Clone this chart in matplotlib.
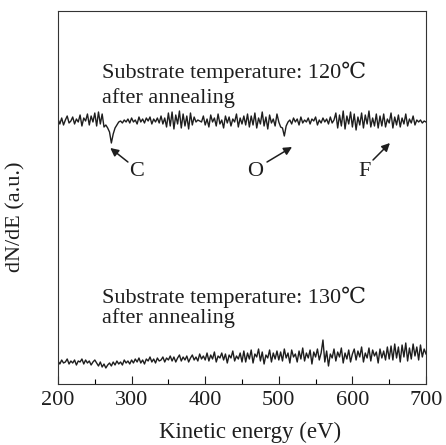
import numpy as np
import matplotlib
matplotlib.use("Agg")
import matplotlib.pyplot as plt

# ---- data (y in arbitrary units) ----
upper_120C = [
    265, 260, 266, 259, 264, 268, 261, 263, 267, 260, 265, 262, 269, 258, 266, 263, 270, 259, 268, 262, 271,
    258, 272, 260, 270, 257,
    259, 256, 252, 241, 250, 256, 259,
    262, 263, 261, 264, 262,
    265, 261, 266, 262, 264, 260, 267, 262, 265, 261, 266, 263, 267, 260, 265, 262, 266, 261, 268, 260, 266,
    257, 271, 258, 272, 255, 269, 260, 273, 256, 270, 258, 268, 255, 271, 259, 267,
    262, 264, 263, 262,
    268, 259, 265, 257, 269, 262, 266, 258, 270, 260, 264, 256, 268, 261, 267, 258, 265, 262, 270, 257, 266, 260, 268, 259,
    270, 257, 268, 259, 271, 256, 266, 260, 272, 258, 267, 255, 269, 261, 265, 258, 270, 262, 257,
    256, 248, 258, 262,
    264, 260, 266, 262, 265, 259, 267, 261, 264, 262, 266, 260, 265, 263, 267, 259, 264, 261, 266, 262, 265, 260, 267, 261, 264,
    271, 256, 269, 258, 273, 255, 268, 260, 272, 257, 270, 254, 267, 259, 271, 256, 269, 260, 273, 257, 266, 258, 270, 256,
    268, 258, 270, 257, 265, 261, 271, 256, 267, 259, 269, 257, 266, 260, 270, 258, 265, 261, 268, 259, 264, 262,
    264, 261, 263, 262,
]

lower_130C = [
    23, 20, 24, 21, 22, 25, 20, 23, 21, 24, 19, 23, 22, 25, 20, 24, 21, 23, 19, 22, 24,
    21, 18, 22, 17, 20, 16, 19, 21, 18, 22, 19, 23, 20, 22, 19, 24, 21, 23, 20, 24,
    21, 25, 22, 26, 21, 24, 20, 25, 23, 27, 22, 25, 21, 26, 23, 24, 27, 22, 26, 24,
    28, 23, 27, 22, 26, 29, 23, 27, 24, 28, 22, 26, 29, 24, 27, 23, 30, 25, 28, 24,
    31, 23, 29, 25, 32, 22, 28, 26, 31, 24, 30, 21, 29, 26, 33, 23, 28, 25, 31, 22,
    33, 22, 31, 25, 34, 21, 30, 27, 35, 23, 32, 20, 29, 26, 34, 22, 31, 25, 33, 24,
    32, 23, 35, 26, 31, 21, 34, 27, 30, 22, 33, 25, 36, 23, 31, 26, 34, 20, 32, 27,
    35, 24, 31, 44, 22, 33, 18, 30, 26, 35, 23, 32, 27, 36, 21, 31, 25, 34, 22, 30,
    35, 24, 33, 27, 37, 22, 31, 26, 36, 23, 34, 28, 32, 21, 35, 26, 33, 24, 37, 25,
    38, 24, 40, 26, 37, 22, 39, 27, 41, 23, 36, 25, 40, 28, 37, 24, 39, 27, 35, 30,
]

x_min, x_max = 200, 700
major_ticks = [200, 300, 400, 500, 600, 700]
minor_ticks = [250, 350, 450, 550, 650]

labels_peaks = ["C", "O", "F"]
label_pos = [(307, 212), (468, 212), (616, 212)]
arrow_head = [(271, 236), (518, 237), (651, 241)]
arrow_tail = [(295, 222), (484, 222), (628, 224)]

upper_text = ["Substrate temperature: 120\u2103", "after annealing"]
lower_text = ["Substrate temperature: 130\u2103", "after annealing"]

serif = ["Liberation Serif", "DejaVu Serif", "DejaVu Sans"]
plt.rcParams["font.family"] = serif
ink = "#1e1e1e"

fig = plt.figure(figsize=(4.46, 4.45), dpi=100)
ax = fig.add_axes([58 / 446, 1 - 384 / 445, 368 / 446, 373 / 445])

e_up = np.linspace(x_min, x_max, len(upper_120C))
e_lo = np.linspace(x_min, x_max, len(lower_130C))
ax.plot(e_up, upper_120C, color=ink, lw=1.0)
ax.plot(e_lo, lower_130C, color=ink, lw=1.0)

ax.set_xlim(x_min, x_max)
ax.set_ylim(0, 373)
ax.set_xticks(major_ticks)
ax.set_xticks(minor_ticks, minor=True)
ax.set_yticks([])
ax.tick_params(axis="x", which="major", direction="in", length=5.8, width=0.8,
               labelsize=16, pad=5, colors=ink)
ax.tick_params(axis="x", which="minor", direction="in", length=3.5, width=0.8)
for s in ax.spines.values():
    s.set_linewidth(0.8)
    s.set_color("#333333")

for lab, lp, ah, at in zip(labels_peaks, label_pos, arrow_head, arrow_tail):
    ax.text(lp[0], lp[1], lab, fontsize=16, ha="center", va="center", color=ink)
    ax.annotate("", xy=ah, xytext=at,
                arrowprops=dict(arrowstyle="-|>", lw=1.1, color=ink,
                                mutation_scale=12, shrinkA=0, shrinkB=0))

ax.text(260, 306, upper_text[0], fontsize=16, va="baseline", ha="left", color=ink)
ax.text(260, 281, upper_text[1], fontsize=16, va="baseline", ha="left", color=ink)
ax.text(260, 81, lower_text[0], fontsize=16, va="baseline", ha="left", color=ink)
ax.text(260, 61, lower_text[1], fontsize=16, va="baseline", ha="left", color=ink)

fig.text(250 / 446, 1 - 432 / 445, "Kinetic energy (eV)", fontsize=16.5,
         ha="center", va="center", color=ink)
fig.text(16 / 446, 1 - 217 / 445, "dN/dE (a.u.)", fontsize=16, rotation=90,
         ha="center", va="center", color=ink)

fig.savefig("out.png", dpi=100)
